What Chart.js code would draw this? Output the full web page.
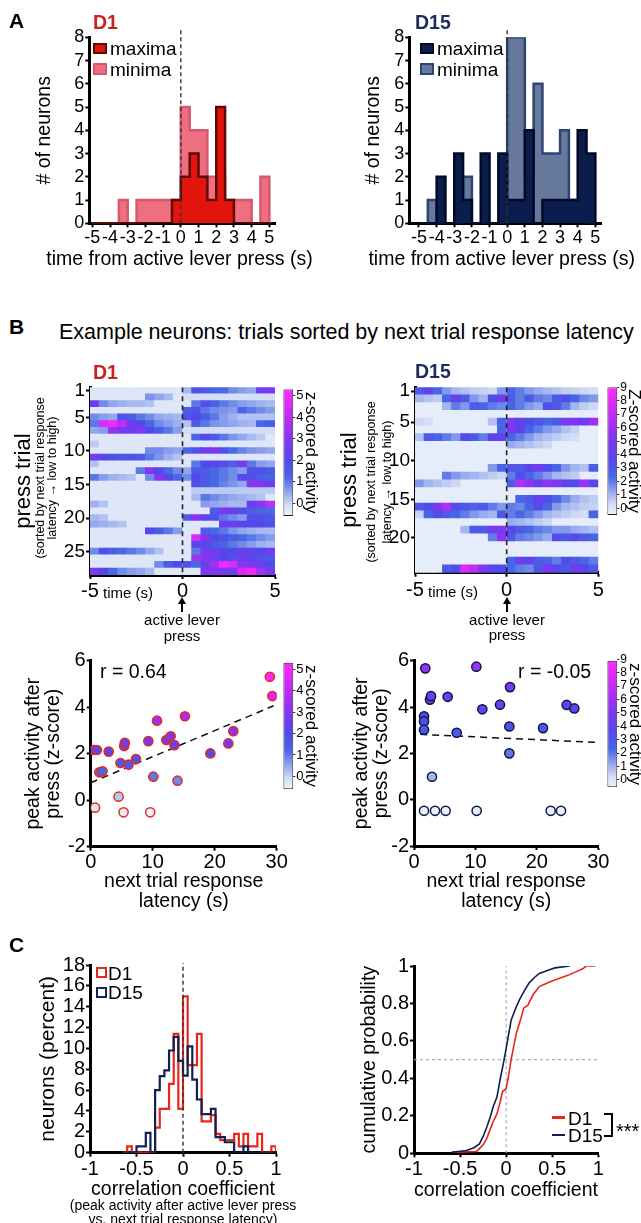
<!DOCTYPE html>
<html><head><meta charset="utf-8"><title>Figure</title>
<script src="https://cdn.jsdelivr.net/npm/chart.js"></script>
<style>
html,body{margin:0;padding:0;background:#fff;overflow:hidden}
body{width:641px;height:1223px;position:relative;font-family:'Liberation Sans',Arial,Helvetica,sans-serif;color:#000}
#charts canvas{position:absolute;display:block}
.t{position:absolute;white-space:nowrap;line-height:1;transform:translateY(-50%)}
.c{position:absolute;white-space:nowrap;line-height:1;transform:translate(-50%,-50%)}
.r{position:absolute;white-space:nowrap;line-height:1;transform:translate(-50%,-50%) rotate(-90deg)}
.b{font-weight:bold}
.box{position:absolute;box-sizing:border-box}
.ln{position:absolute;background:#000}
.ah{position:absolute;width:0;height:0;border-left:4px solid transparent;border-right:4px solid transparent;border-bottom:7px solid #000}
</style></head><body>
<div id="charts"></div>

<div class="t b" style="left:9px;top:20px;font-size:21px">A</div>
<div class="t b" style="left:93px;top:22.5px;font-size:19.5px;color:#c9241b">D1</div>
<div class="t b" style="left:415px;top:22.5px;font-size:19.5px;color:#1c2c5c">D15</div>
<div class="box" style="left:93px;top:42.5px;width:13.5px;height:11px;background:#e3140c;border:2px solid #5e0a05"></div>
<div class="t" style="left:110px;top:48px;font-size:19px">maxima</div>
<div class="box" style="left:93px;top:63px;width:13.5px;height:12px;background:#ef6e7f;border:2px solid #d25a6c"></div>
<div class="t" style="left:110px;top:68.5px;font-size:19px">minima</div>
<div class="box" style="left:420px;top:42.5px;width:13.5px;height:11px;background:#0b1d4d;border:2px solid #000a28"></div>
<div class="t" style="left:437px;top:48px;font-size:19px">maxima</div>
<div class="box" style="left:420px;top:63px;width:13.5px;height:12px;background:#66789c;border:2px solid #2d4573"></div>
<div class="t" style="left:437px;top:68.5px;font-size:19px">minima</div>
<div class="c" style="left:179.5px;top:258.5px;font-size:19.5px">time from active lever press (s)</div>
<div class="c" style="left:501.7px;top:258.5px;font-size:19.5px">time from active lever press (s)</div>

<div class="t b" style="left:9px;top:326px;font-size:21px">B</div>
<div class="t" style="left:59px;top:332.5px;font-size:21.5px">Example neurons: trials sorted by next trial response latency</div>
<div class="t b" style="left:93px;top:372.5px;font-size:19.5px;color:#c9241b">D1</div>
<div class="t b" style="left:415px;top:372px;font-size:19.5px;color:#1c2c5c">D15</div>
<div class="r" style="left:39.5px;top:478px;font-size:12.5px">(sorted by next trial response</div>
<div class="r" style="left:52px;top:478px;font-size:12.5px">latency → low to high)</div>
<div class="r" style="left:371px;top:482px;font-size:12.5px">(sorted by next trial response</div>
<div class="r" style="left:386.5px;top:482px;font-size:12.5px">latency → low to high)</div>
<div class="t" style="left:103px;top:592px;font-size:15px">time (s)</div>
<div class="t" style="left:428px;top:591px;font-size:15px">time (s)</div>
<div class="ln" style="left:181.4px;top:602px;width:1.6px;height:10px"></div>
<div class="ah" style="left:178.2px;top:597px"></div>
<div class="c" style="left:182px;top:619px;font-size:15px">active lever</div>
<div class="c" style="left:182px;top:635px;font-size:15px">press</div>
<div class="ln" style="left:506.4px;top:602px;width:1.6px;height:10px"></div>
<div class="ah" style="left:503.2px;top:597px"></div>
<div class="c" style="left:507px;top:619px;font-size:15px">active lever</div>
<div class="c" style="left:507px;top:634px;font-size:15px">press</div>
<div class="t" style="left:100px;top:672px;font-size:19.5px">r = 0.64</div>
<div class="t" style="left:518px;top:672px;font-size:19.5px">r = -0.05</div>

<div class="t b" style="left:9px;top:944px;font-size:21px">C</div>
<div class="box" style="left:96px;top:967px;width:11px;height:11px;border:2.5px solid #e8261a"></div>
<div class="t" style="left:108px;top:973px;font-size:19px">D1</div>
<div class="box" style="left:96px;top:986.5px;width:11px;height:11px;border:2.5px solid #13235a"></div>
<div class="t" style="left:108px;top:992px;font-size:19px">D15</div>
<div class="c" style="left:183px;top:1188.5px;font-size:19.5px">correlation coefficient</div>
<div class="c" style="left:183px;top:1205px;font-size:14px">(peak activity after active lever press</div>
<div class="c" style="left:183px;top:1218.5px;font-size:14px">vs. next trial response latency)</div>
<div class="c" style="left:506px;top:1190px;font-size:19.5px">correlation coefficient</div>
<div class="ln" style="left:552px;top:1116px;width:13px;height:2.6px;background:#e8261a"></div>
<div class="t" style="left:568px;top:1117.5px;font-size:19px">D1</div>
<div class="ln" style="left:552px;top:1133.7px;width:13px;height:2.6px;background:#0d1f4f"></div>
<div class="t" style="left:568px;top:1135px;font-size:19px">D15</div>
<div class="ln" style="left:611.3px;top:1113px;width:2px;height:24px"></div>
<div class="ln" style="left:603.5px;top:1113px;width:9.8px;height:2px"></div>
<div class="ln" style="left:603.5px;top:1135px;width:9.8px;height:2px"></div>
<div class="t" style="left:616px;top:1131px;font-size:20px">***</div>

<script>
const FONT = "'Liberation Sans', Arial, Helvetica, sans-serif";

// ---------------- Panel A: histograms of peak times ----------------
const binEdgesA = [-5,-4.5,-4,-3.5,-3,-2.5,-2,-1.5,-1,-0.5,0,0.5,1,1.5,2,2.5,3,3.5,4,4.5,5];
const tickValsA = [-5,-4,-3,-2,-1,0,1,2,3,4,5];
const d1Maxima  = [0,0,0,0,0,0,0,0,0,1,2,3,2,1,5,1,0,0,0,0];
const d1Minima  = [0,0,0,1,0,1,1,1,1,1,5,4,4,2,2,1,1,1,0,2];
const d15Maxima = [0,0,2,0,3,1,0,3,0,3,1,1,4,0,1,1,1,1,4,3];
const d15Minima = [0,1,0,0,0,2,0,0,0,0,8,8,2,6,3,3,4,1,1,0];

// ---------------- Panel B: heatmaps ----------------
const heatEdges = [-5,-4.5,-4,-3.5,-3,-2.5,-2,-1.5,-1,-0.5,0,0.5,1,1.5,2,2.5,3,3.5,4,4.5,5];
const heatTicksX = [-5,0,5];
const heatTicksYD1 = [1,5,10,15,20,25];
const heatTicksYD15 = [1,5,10,15,20];
const cbTicksD1 = [0,1,2,3,4,5];
const cbTicksD15 = [0,1,2,3,4,5,6,7,8,9];
const heatD1 = [
 [-.3,-.3,-.3,-.3,-.3,-.3,-.3,-.3,-.3,-.3,.3,1.8,1.5,1.3,1.2,.8,.6,.5,2.5,2.8],
 [-.3,-.3,-.3,-.3,-.3,-.3,.7,.5,.3,-.3,-.1,-.1,-.1,-.1,-.1,-.1,-.1,-.1,-.1,-.1],
 [2.5,.8,.5,.4,.3,.3,.2,-.3,-.3,-.3,-.3,1.0,1.8,1.4,1.0,.8,.6,.5,.4,.3],
 [-.3,-.3,-.3,-.3,-.3,-.3,-.3,-.3,-.3,-.3,1.5,1.8,1.0,.8,.7,.6,1.3,1.0,.8,.6],
 [.8,.6,.5,1.8,1.5,1.0,.8,.5,.4,.3,1.8,2.0,1.5,1.0,.6,.4,.2,.2,.2,.2],
 [1.0,4.5,5.0,4.0,2.5,2.0,1.2,.8,.6,.4,.2,1.5,1.0,.7,.6,.5,.4,.3,1.2,1.5],
 [.5,.6,3.2,2.8,2.5,3.0,2.0,1.5,1.0,.6,-.1,-.1,-.1,-.1,-.1,-.1,-.1,-.1,-.1,-.1],
 [-.3,-.3,-.3,-.3,-.3,-.3,-.3,-.3,-.3,-.3,-.3,1.2,2.0,1.5,1.0,.7,.5,.3,.1,-.3],
 [.1,-.3,-.3,-.3,-.3,-.3,-.3,-.3,-.3,-.3,-.3,-.3,-.3,-.3,-.3,-.3,-.3,-.3,-.3,-.3],
 [-.3,-.3,-.3,-.3,-.3,-.3,.8,.8,.6,.5,1.2,1.8,2.5,2.8,1.8,1.2,.9,.7,.6,.5],
 [2.8,2.0,1.8,1.6,1.8,1.5,1.0,.7,.4,.2,-.3,-.3,-.3,-.3,-.3,-.3,-.3,-.3,-.3,-.3],
 [.2,-.3,-.3,-.3,-.3,-.3,-.3,-.3,-.3,-.3,-.3,1.0,2.0,2.2,1.8,1.4,3.0,1.0,.6,.5],
 [-.3,-.3,-.3,-.3,-.3,1.0,3.0,2.0,1.2,.8,.5,1.6,1.5,1.2,1.0,.8,.6,1.8,1.8,1.6],
 [1.0,.6,.4,.3,.2,-.3,.8,3.0,2.0,1.2,.8,2.0,1.5,1.2,1.0,.8,2.0,1.8,1.5,1.3],
 [-.3,-.3,-.3,-.3,-.3,-.3,-.3,-.3,-.3,-.3,-.3,1.8,1.5,1.2,.9,.7,.5,3.0,3.0,2.5],
 [-.3,-.3,-.3,-.3,-.3,-.3,-.3,-.3,-.3,-.3,-.3,.1,.1,.1,.1,.1,.1,.1,.1,.1],
 [-.3,-.3,-.3,-.3,-.3,-.3,-.3,-.3,-.3,-.3,-.3,.3,1.0,.8,.6,.5,.4,.3,.2,-.3],
 [.4,.2,-.3,-.3,-.3,-.3,-.3,-.3,-.3,-.3,-.3,-.3,.6,.5,.4,.3,.3,2.5,3.0,4.0],
 [-.3,-.3,-.3,-.3,-.3,-.3,-.3,-.3,-.3,-.3,-.3,-.3,-.3,1.5,2.8,2.5,1.8,1.5,1.3,1.2],
 [.3,.2,-.3,-.3,-.3,-.3,-.3,-.3,-.3,-.3,1.5,3.0,2.2,1.8,1.0,.8,.6,1.8,1.8,1.6],
 [.5,.4,.3,.2,-.3,-.3,-.3,-.3,-.3,-.3,-.3,-.3,-.3,-.3,2.5,2.5,2.2,2.0,2.0,1.8],
 [-.3,-.3,-.3,-.3,-.3,-.3,2.0,1.5,1.0,.6,-.3,-.3,1.5,1.2,1.0,.7,.5,.4,.3,.3],
 [-.3,-.3,-.3,-.3,-.3,-.3,-.3,-.3,-.3,-.3,-.3,4.5,3.0,2.0,1.8,1.5,1.2,1.0,.8,.6],
 [-.3,-.3,-.3,-.3,-.3,-.3,-.3,-.3,-.3,-.3,-.3,2.2,2.0,1.6,1.3,1.0,.8,.6,.4,.3],
 [.8,1.8,1.5,1.2,1.0,.8,.5,.2,-.3,-.3,-.3,1.0,2.8,2.5,2.2,2.0,2.5,2.2,2.0,2.5],
 [-.3,-.3,-.3,-.3,-.3,-.3,-.3,-.3,-.3,-.3,-.3,3.5,3.0,2.5,2.0,1.8,2.5,2.0,1.8,1.6],
 [-.3,-.3,-.3,-.3,-.3,-.3,-.3,.8,1.5,2.0,1.8,1.2,2.5,3.5,5.0,4.5,3.0,2.8,2.5,2.0],
 [3.0,2.0,1.2,.8,.6,.5,.3,-.3,-.3,-.3,-.3,-.3,2.8,3.0,2.8,2.5,4.5,5.0,3.5,2.8]
];
const heatD15 = [
 [3.0,4.0,2.5,1.5,1.0,.8,.6,.5,.4,1.5,2.5,2.0,1.5,1.2,1.0,.8,.6,.5,.4,.3],
 [1.0,.8,.6,2.5,4.5,3.0,1.5,1.0,3.5,4.5,3.0,2.0,3.0,2.0,1.8,3.0,3.5,2.5,1.8,1.5],
 [-.3,-.3,-.3,1.0,2.0,1.5,3.0,2.5,2.0,1.8,2.5,2.0,1.5,1.2,3.5,3.0,2.0,1.0,.6,.4],
 [-.3,-.3,-.3,-.3,-.3,-.3,-.3,-.3,-.3,-.3,-.3,-.3,-.3,-.3,-.3,-.3,-.3,-.3,-.3,-.3],
 [.4,.3,-.3,-.3,-.3,-.3,-.3,-.3,.8,2.5,5.0,4.0,3.5,3.0,2.5,3.0,5.0,5.0,4.5,6.0],
 [-.3,-.3,-.3,-.3,-.3,-.3,-.3,-.3,-.3,2.5,5.0,4.0,2.5,2.0,1.5,1.2,.8,.5,-.3,-.3],
 [.8,3.0,2.5,2.0,1.5,3.5,3.0,2.0,4.0,4.0,2.5,2.0,1.5,1.0,.8,.6,.4,.3,-.3,-.3],
 [-.3,-.3,-.3,-.3,-.3,-.3,-.3,-.3,-.3,-.3,1.2,1.0,.8,.6,.4,-.3,-.3,-.3,-.3,-.3],
 [-.3,-.3,-.3,-.3,-.3,-.3,-.3,-.3,-.3,-.3,-.3,-.3,-.3,-.3,-.3,-.3,-.3,-.3,-.3,-.3],
 [-.3,-.3,-.3,-.3,-.3,-.3,-.3,-.3,-.3,-.3,-.3,-.3,-.3,-.3,-.3,-.3,-.3,-.3,-.3,-.3],
 [-.3,-.3,-.3,-.3,-.3,-.3,-.3,-.3,1.5,2.5,3.0,3.0,4.0,4.5,3.5,2.5,1.5,1.0,.8,2.8],
 [-.3,-.3,-.3,2.0,1.5,1.2,1.0,.8,.6,.4,2.0,3.5,2.5,2.0,1.5,1.0,.8,.6,-.3,-.3],
 [1.5,1.0,.8,.6,.4,-.3,-.3,-.3,-.3,-.3,3.0,6.5,5.5,4.5,5.5,5.0,4.0,3.5,6.0,4.0],
 [-.3,-.3,-.3,-.3,-.3,-.3,-.3,-.3,-.3,-.3,-.3,-.3,-.3,-.3,-.3,-.3,-.3,-.3,-.3,-.3],
 [-.3,-.3,-.3,-.3,-.3,-.3,-.3,-.3,-.3,-.3,-.3,2.5,3.0,4.5,3.5,2.5,1.8,1.2,.8,.6],
 [3.0,3.5,5.0,6.5,3.5,3.0,2.5,3.0,2.0,1.5,2.0,1.8,2.5,3.5,2.5,1.5,1.0,.8,.6,.5],
 [.5,2.5,3.5,3.0,2.5,2.0,1.5,1.2,1.0,3.0,2.0,2.5,2.0,1.5,1.0,.8,.6,.4,.3,2.5],
 [-.3,-.3,-.3,-.3,-.3,-.3,-.3,-.3,-.3,-.3,1.2,1.0,.8,.6,.4,-.3,-.3,-.3,-.3,-.3],
 [-.3,-.3,-.3,-.3,-.3,1.0,3.0,3.0,4.5,5.0,4.0,3.0,2.5,2.0,1.8,1.5,1.5,1.2,1.0,.8],
 [-.3,-.3,-.3,-.3,-.3,-.3,-.3,-.3,2.0,5.5,3.0,2.0,1.8,1.5,1.2,3.5,3.0,3.5,3.0,2.5],
 [-.3,-.3,-.3,-.3,-.3,-.3,-.3,-.3,-.3,-.3,-.3,-.3,-.3,-.3,-.3,-.3,-.3,-.3,-.3,-.3],
 [-.3,-.3,-.3,-.3,-.3,-.3,-.3,-.3,-.3,-.3,-.3,-.3,-.3,-.3,-.3,-.3,-.3,-.3,-.3,-.3],
 [-.3,-.3,-.3,-.3,-.3,-.3,-.3,-.3,-.3,-.3,2.5,4.5,4.0,3.0,2.5,2.0,3.5,3.0,2.5,2.0],
 [-.3,-.3,-.3,3.0,3.5,8.0,7.0,5.0,4.0,3.5,2.5,2.0,1.8,3.0,5.0,4.0,3.0,4.5,4.0,3.0]
];

// ---------------- Panel B: scatter plots ----------------
const scatTicksX = [0,10,20,30];
const scatTicksY = [-2,0,2,4,6];
const latD1  = [0.4,1.0,0.7,1.4,1.9,2.9,4.5,4.8,5.4,5.5,5.3,6.1,7.3,9.3,9.6,10.1,10.7,12.2,12.9,13.5,14.0,15.2,19.3,22.2,23.0,28.9,29.3];
const peakD1 = [2.16,2.16,-0.32,1.2,1.24,2.09,0.15,1.6,2.33,2.47,-0.52,1.53,1.77,2.54,-0.52,1.01,3.42,2.59,2.75,2.37,0.84,3.61,2.01,2.44,2.97,5.31,4.48];
const latD15  = [1.84,1.63,1.63,1.63,2.6,2.77,2.93,5.48,6.95,10.15,11.12,14.0,15.63,15.52,15.52,21.0,24.85,26.1,1.63,3.42,5.15,10.2,22.25,23.93];
const peakD15 = [5.67,3.6,3.38,3.02,4.32,4.47,0.99,4.44,2.89,5.74,3.9,4.1,4.86,3.16,2.0,3.09,4.09,3.94,-0.48,-0.48,-0.48,-0.48,-0.48,-0.48];
const fitD1X = [0, 29.5],  fitD1Y = [0.75, 4.06];
const fitD15X = [1, 30],   fitD15Y = [2.82, 2.47];

// ---------------- Panel C ----------------
const corrEdges = [-0.65,-0.6,-0.55,-0.5,-0.45,-0.4,-0.35,-0.3,-0.25,-0.2,-0.15,-0.1,-0.05,0,0.05,0.1,0.15,0.2,0.25,0.3,0.35,0.4,0.45,0.5,0.55,0.6,0.65,0.7,0.75,0.8,0.85,0.9,0.95,1.0];
const corrTicksX = [-1,-0.5,0,0.5,1];
const corrTicksY = [0,2,4,6,8,10,12,14,16,18];
const corrD1  = [0,0.6,0,0,0,0,0,2.4,4.2,4.2,6.6,11.4,4.2,15.0,8.4,8.4,11.4,3.0,3.0,3.6,1.8,1.2,1.2,1.2,1.8,0.6,1.8,0.6,0.6,1.8,0,0,0.6];
const corrD15 = [0,0,0,0.6,0.6,1.9,0,6.0,7.35,7.9,9.8,11.1,8.8,7.4,10.2,7.0,5.1,3.7,3.7,4.2,1.5,1.5,1.0,1.0,0,0,0.6,0,0,0,0,0,0];
const cdfTicksY = [0,0.2,0.4,0.6,0.8,1];
const cdfD1X = [-0.59,-0.32,-0.28,-0.25,-0.21,-0.175,-0.14,-0.10,-0.067,-0.04,0.0,0.025,0.054,0.11,0.16,0.19,0.235,0.29,0.36,0.47,0.58,0.67,0.76,0.83,0.87,0.97];
const cdfD1P = [0.005,0.01,0.03,0.045,0.08,0.125,0.17,0.21,0.27,0.33,0.345,0.41,0.5,0.64,0.72,0.775,0.79,0.845,0.89,0.915,0.935,0.95,0.97,0.985,1.0,1.0];
const cdfD15X = [-0.59,-0.43,-0.35,-0.29,-0.25,-0.21,-0.175,-0.14,-0.10,-0.067,-0.03,0.0,0.054,0.108,0.145,0.2,0.25,0.31,0.36,0.47,0.53,0.69];
const cdfD15P = [0.005,0.015,0.03,0.05,0.09,0.14,0.19,0.25,0.30,0.39,0.48,0.56,0.71,0.78,0.82,0.87,0.91,0.94,0.96,0.98,0.99,1.0];

// ---------------- colour map ----------------
const cmapStops = [[0,[236,241,252]],[0.08,[214,224,246]],[0.18,[150,170,238]],[0.3,[72,105,228]],[0.45,[85,70,235]],[0.6,[130,55,240]],[0.78,[190,45,240]],[1,[255,40,255]]];
function cmap(v, vmin, vmax){
  let f = (v - vmin) / (vmax - vmin); f = Math.max(0, Math.min(1, f));
  for (let i = 1; i < cmapStops.length; i++){
    const [f1,c1] = cmapStops[i], [f0,c0] = cmapStops[i-1];
    if (f <= f1){ const u = (f - f0) / (f1 - f0);
      return 'rgb(' + c0.map((c,k)=>Math.round(c + (c1[k]-c)*u)).join(',') + ')'; }
  }
  return 'rgb(255,40,255)';
}
function grad(ctx, vmin, vmax){
  const ch = ctx.chart; if (!ch.chartArea || !ch.scales.y) return 'transparent';
  const ys = ch.scales.y;
  const g = ch.ctx.createLinearGradient(0, ys.getPixelForValue(vmin), 0, ys.getPixelForValue(vmax));
  cmapStops.forEach(([f,c]) => g.addColorStop(f, 'rgb(' + c.join(',') + ')'));
  return g;
}

// ---------------- helpers ----------------
const holder = document.getElementById('charts');
function mkCanvas(L,T,W,H){
  const c = document.createElement('canvas');
  c.width = W; c.height = H;
  Object.assign(c.style, {left:L+'px', top:T+'px', width:W+'px', height:H+'px'});
  holder.appendChild(c); return c;
}
const fixW = w => s => { s.width = w; };
const fixH = h => s => { s.height = h; };
const setTicks = v => s => { s.ticks = v.map(x => ({value:x})); };
const fmt = v => String(v);

function xAxis(o){
  return {type:'linear', position:'bottom', min:o.min, max:o.max, bounds:'data', offset:false, z:o.z||0,
    afterBuildTicks:setTicks(o.ticks), afterFit:fixH(o.h),
    border:{display:true, color:'#000', width:3},
    grid:{display:true, drawOnChartArea:false, drawTicks:true, tickLength:o.tl, tickWidth:2, tickColor:'#000', offset:false},
    ticks:{color:'#000', font:{family:FONT, size:o.fs}, padding:o.pad, autoSkip:false, maxRotation:0, minRotation:0, callback:fmt},
    title: o.title ? {display:true, text:o.title, color:'#000', font:{family:FONT, size:o.tfs, lineHeight:o.tlh||1.2}, padding:{top:0, bottom:o.tpb}} : {display:false}
  };
}
function yAxis(o){
  return {type:'linear', position:'left', min:o.min, max:o.max, bounds:'data', offset:false, reverse:!!o.reverse, z:o.z||0,
    afterBuildTicks:setTicks(o.ticks), afterFit:fixW(o.w),
    border:{display:true, color:'#000', width:3},
    grid:{display:true, drawOnChartArea:false, drawTicks:true, tickLength:o.tl, tickWidth:2, tickColor:'#000', offset:false},
    ticks:{color:'#000', font:{family:FONT, size:o.fs}, padding:o.pad, autoSkip:false, maxRotation:0, minRotation:0, callback:fmt},
    title: o.title ? {display:true, text:o.title, color:'#000', font:{family:FONT, size:o.tfs, lineHeight:o.tlh||1.2}, padding:{top:o.tpt, bottom:0}} : {display:false}
  };
}
function makeChart(L,T,W,H,area,config,pad){
  pad = pad || {};
  const cv = mkCanvas(L,T,W,H);
  config.options = Object.assign(config.options || {}, {
    responsive:false, maintainAspectRatio:false, animation:false, devicePixelRatio:1, events:[],
    layout:{autoPadding:false, padding:{
      left: pad.left !== undefined ? pad.left : 0,
      top: area.t - T,
      right: pad.right !== undefined ? pad.right : (L + W - area.r),
      bottom: pad.bottom !== undefined ? pad.bottom : 0}},
    plugins:{legend:{display:false}, tooltip:{enabled:false}}
  });
  return new Chart(cv.getContext('2d'), config);
}
// histogram outline: each point is a bin's left edge with the bin's count; 'before' steps draw the flat top first
function stepData(edges, vals){
  const p = vals.map((v,i) => ({x:edges[i], y:v}));
  p.push({x:edges[vals.length], y:0});
  return p;
}
function pairs(xs, ys){ return xs.map((x,i) => ({x, y:ys[i]})); }

// ---------------- Panel A charts ----------------
function histA(L,T,W,H,area,xmin,xmax,maxV,minV,sMax,sMin,tpt){
  return makeChart(L,T,W,H,area,{
    type:'line',
    data:{datasets:[
      {data:[{x:0,y:0},{x:0,y:8.3}], borderColor:'#333', borderDash:[4,3], borderWidth:1.4, pointRadius:0, clip:false, order:0},
      {data:stepData(binEdgesA, maxV), stepped:'before', fill:'origin', backgroundColor:sMax[0], borderColor:sMax[1], borderWidth:2.5, pointRadius:0, order:1},
      {data:stepData(binEdgesA, minV), stepped:'before', fill:'origin', backgroundColor:sMin[0], borderColor:sMin[1], borderWidth:2.5, pointRadius:0, order:2}
    ]},
    options:{scales:{
      x:xAxis({min:xmin, max:xmax, ticks:tickValsA, fs:18, tl:4, pad:0.2, h:T+H-area.b, z:1}),
      y:yAxis({min:0, max:8, ticks:[0,1,2,3,4,5,6,7,8], fs:18, tl:4, pad:1, w:area.l-L, title:'# of neurons', tfs:19.5, tpt:tpt, z:1})
    }}
  });
}
histA(0,20,320,250,{l:89.3,t:37.3,r:275,b:223.3}, -5.17, 5.32, d1Maxima, d1Minima, ['#e3140c','#5e0a05'], ['#ef6e7f','#d25a6c'], 33.3);
histA(320,20,321,250,{l:409.3,t:37.3,r:601.7,b:223.3}, -5.55, 5.36, d15Maxima, d15Minima, ['#0b1d4d','#000a28'], ['#66789c','#2d4573'], 41.6);

// ---------------- Panel B heatmaps ----------------
function heatChart(L,T,W,H,area,mat,vmin,vmax,yTicks,tpt,xpad){
  const pts = [], cols = [];
  mat.forEach((row,r) => row.forEach((v,c) => {
    pts.push({x:[heatEdges[c], heatEdges[c+1]], y:r+1});
    cols.push(cmap(v, vmin, vmax));
  }));
  const n = mat.length;
  return makeChart(L,T,W,H,area,{
    type:'bar',
    data:{datasets:[
      {type:'line', data:[{x:0,y:0.5},{x:0,y:n+0.5}], borderColor:'#222', borderWidth:1.6, borderDash:[5,4], pointRadius:0, order:0},
      {type:'bar', data:pts, backgroundColor:cols, borderWidth:0, barPercentage:1, categoryPercentage:1, inflateAmount:0.5, order:1}
    ]},
    options:{indexAxis:'y', scales:{
      x:xAxis({min:-5, max:5, ticks:heatTicksX, fs:20, tl:4, pad:xpad, h:T+H-area.b}),
      y:yAxis({min:0.5, max:n+0.5, ticks:yTicks, fs:19, tl:4, pad:1, w:area.l-L, reverse:true, title:'press trial', tfs:22, tpt:tpt})
    }}
  });
}
heatChart(0,370,300,230,{l:90,t:387.3,r:275,b:575}, heatD1, -0.6, 5.3, heatTicksYD1, 10.8, 0.7);
heatChart(320,370,300,230,{l:415,t:387.3,r:598.3,b:572.7}, heatD15, -0.5, 9.0, heatTicksYD15, 16.8, 2);

function colorbar(L,T,W,H,area,vmin,vmax,ticks,title,titleCx,fs){
  const R = L + W;
  return makeChart(L,T,W,H,area,{
    type:'bar',
    data:{labels:[''], datasets:[{data:[[vmin,vmax]], backgroundColor:ctx => grad(ctx,vmin,vmax), borderColor:'#2a0f30', borderWidth:1, borderSkipped:false, barThickness:area.r-area.l, inflateAmount:0}]},
    options:{scales:{
      x:{display:false, offset:true},
      y:{type:'linear', position:'right', min:vmin, max:vmax, bounds:'data', afterBuildTicks:setTicks(ticks), afterFit:fixW(R-area.r),
         border:{display:false},
         grid:{display:true, drawOnChartArea:false, drawTicks:true, tickLength:2, tickWidth:1, tickColor:'#333'},
         ticks:{color:'#000', font:{family:FONT, size:fs}, padding:1, autoSkip:false, maxRotation:0, callback:fmt},
         title:{display:true, text:title, color:'#000', font:{family:FONT, size:17}, padding:{top:R-titleCx-10.2, bottom:0}}}
    }}
  }, {left:area.l-L, right:0, bottom:T+H-area.b});
}
colorbar(275,375,50,155,{l:283.3,t:389.3,r:293.3,b:516}, -0.6, 5.3, cbTicksD1, 'z-scored activity', 311, 13);
colorbar(600,375,50,155,{l:607.3,t:387.3,r:617.3,b:515}, -0.5, 9.0, cbTicksD15, 'Z-scored activity', 634, 12);

// ---------------- Panel B scatters ----------------
function scatChart(L,T,W,H,area,xs,ys,vmin,vmax,edge,fx,fy,tpt){
  return makeChart(L,T,W,H,area,{
    type:'scatter',
    data:{datasets:[
      {data:pairs(xs,ys), backgroundColor:ys.map(v => cmap(v,vmin,vmax)), borderColor:edge, borderWidth:1.5, pointRadius:4.6, order:0},
      {type:'line', data:pairs(fx,fy), borderColor:'#111', borderWidth:1.5, borderDash:[7,5], pointRadius:0, order:1}
    ]},
    options:{scales:{
      x:xAxis({min:0, max:30, ticks:scatTicksX, fs:20, tl:4, pad:0, h:T+H-area.b, title:['next trial response','latency (s)'], tfs:19.5, tlh:20/19.5, tpb:0.3}),
      y:yAxis({min:-2, max:6, ticks:scatTicksY, fs:20, tl:4, pad:1, w:area.l-L, title:['peak activity after','press (z-score)'], tfs:19.5, tlh:20/19.5, tpt:tpt})
    }}
  });
}
scatChart(0,640,300,272,{l:90.7,t:660.7,r:276.7,b:846.7}, latD1, peakD1, -0.6, 5.3, '#e8281c', fitD1X, fitD1Y, 23.3);
scatChart(320,640,300,272,{l:414,t:660.7,r:598.3,b:846}, latD15, peakD15, -0.55, 8.9, '#0c1a45', fitD15X, fitD15Y, 32);
colorbar(275,650,50,150,{l:283.3,t:662.7,r:293.3,b:789.3}, -0.6, 5.3, cbTicksD1, 'z-scored activity', 311, 13);
colorbar(600,650,50,150,{l:607.3,t:660.7,r:617.3,b:787.3}, -0.55, 8.9, cbTicksD15, 'z-scored activity', 635, 12);

// ---------------- Panel C ----------------
makeChart(0,945,300,255,{l:90,t:965,r:276,b:1152.7},{
  type:'line',
  data:{datasets:[
    {data:[{x:0,y:0},{x:0,y:18.2}], borderColor:'#333', borderDash:[4,3], borderWidth:1.4, pointRadius:0, clip:false, order:0},
    {data:stepData(corrEdges, corrD15), stepped:'before', fill:false, borderColor:'#0f2150', borderWidth:2.2, pointRadius:0, order:1},
    {data:stepData(corrEdges, corrD1), stepped:'before', fill:false, borderColor:'#e8261a', borderWidth:2.2, pointRadius:0, order:2}
  ]},
  options:{scales:{
    x:xAxis({min:-1, max:1, ticks:corrTicksX, fs:20, tl:4, pad:0.3, h:1200-1152.7, z:1}),
    y:yAxis({min:0, max:18, ticks:corrTicksY, fs:20, tl:4, pad:1, w:90, title:'neurons (percent)', tfs:21, tpt:35.7, z:1})
  }}
});
makeChart(320,945,300,260,{l:414,t:966,r:598.3,b:1153.3},{
  type:'line',
  data:{datasets:[
    {data:pairs(cdfD15X, cdfD15P), borderColor:'#0d1f4f', borderWidth:1.6, pointRadius:0, order:0},
    {data:pairs(cdfD1X, cdfD1P), borderColor:'#e8261a', borderWidth:1.6, pointRadius:0, order:1},
    {data:[{x:-1,y:0.5},{x:1,y:0.5}], borderColor:'#aaa', borderDash:[3,3], borderWidth:1.2, pointRadius:0, order:3},
    {data:[{x:0,y:0},{x:0,y:1}], borderColor:'#aaa', borderDash:[3,3], borderWidth:1.2, pointRadius:0, order:3}
  ]},
  options:{scales:{
    x:xAxis({min:-1, max:1, ticks:corrTicksX, fs:20, tl:4, pad:0, h:1205-1153.3, z:1}),
    y:yAxis({min:0, max:1, ticks:cdfTicksY, fs:20, tl:4, pad:1, w:94, title:'cumulative probability', tfs:19.5, tpt:38.3, z:1})
  }}
});
</script>
</body></html>
